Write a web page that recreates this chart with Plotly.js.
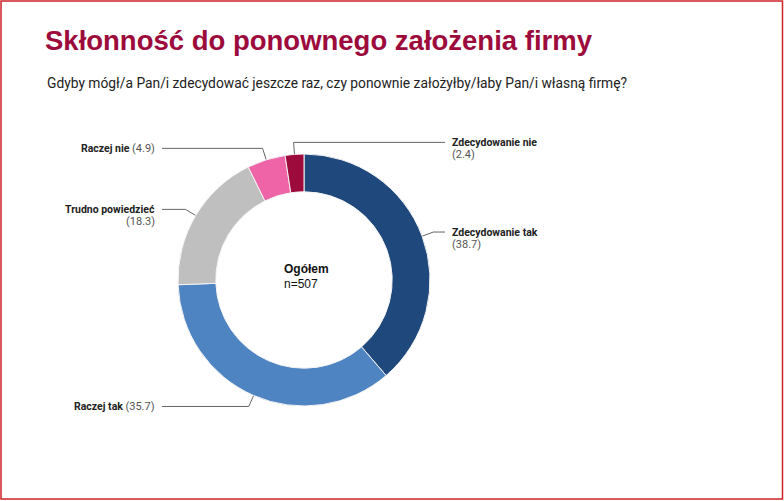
<!DOCTYPE html>
<html>
<head>
<meta charset="utf-8">
<script src="https://cdn.plot.ly/plotly-3.0.1.min.js"></script>
<style>
    html, body { margin: 0; padding: 0; background: #fff; }
    #chart { width: 784px; height: 501px; }
</style>
</head>
<body>
<div id="chart"></div>
<script>
// data
const categories = ['Zdecydowanie tak', 'Raczej tak', 'Trudno powiedzieć', 'Raczej nie', 'Zdecydowanie nie']
const values = [38.7, 35.7, 18.3, 4.9, 2.4]
const colors = ['#1f497c', '#4f84c3', '#bfbfbf', '#ef64a6', '#9c0b3b']
const labelSide = ['right', 'left', 'left', 'left', 'right']
const labelTwoLines = [true, false, true, false, true]

const titleText = 'Skłonność do ponownego założenia firmy'
const subtitleText = 'Gdyby mógł/a Pan/i zdecydować jeszcze raz, czy ponownie założyłby/łaby Pan/i własną firmę?'
const centerTitle = 'Ogółem'
const centerSub = 'n=507'

// geometry (pixels)
const W = 784, H = 501
const cx = 304, cy = 280
const outerR = 126
const hole = 0.7
const dotR = 107
const elbowR = 138
const lineEndX = { left: 162, right: 445 }
const textGap = 5
const lineGap = 12.5
const labelFont = 'Roboto, "Noto Sans", sans-serif'

// leader lines + dots computed from the data
const total = values.reduce((a, b) => a + b, 0)
let cum = 0
let lineX = [], lineY = [], dotX = [], dotY = []
let annotations = []

values.forEach((v, i) => {
    let theta = (cum + v / 2) / total * 2 * Math.PI
    cum += v
    let s = Math.sin(theta), c = Math.cos(theta)
    let dx = cx + dotR * s, dy = cy - dotR * c
    let ex = cx + elbowR * s, ey = cy - elbowR * c
    let side = labelSide[i]
    let endX = lineEndX[side]

    dotX.push(dx); dotY.push(dy)
    lineX.push(dx, ex, endX, null)
    lineY.push(dy, ey, ey, null)

    let tx = side === 'right' ? endX + textGap : endX - textGap
    let anchor = side === 'right' ? 'left' : 'right'
    let valText = '(' + v.toFixed(1) + ')'

    if (labelTwoLines[i]) {
        annotations.push({
            x: tx, y: ey, xref: 'x', yref: 'y', xanchor: anchor, yanchor: 'middle',
            text: '<b>' + categories[i] + '</b>', showarrow: false, align: anchor,
            font: { family: labelFont, size: 10.5, color: '#222' }
        })
        annotations.push({
            x: tx, y: ey + lineGap, xref: 'x', yref: 'y', xanchor: anchor, yanchor: 'middle',
            text: valText, showarrow: false, align: anchor,
            font: { family: labelFont, size: 11, color: '#555' }
        })
    } else {
        annotations.push({
            x: tx, y: ey, xref: 'x', yref: 'y', xanchor: anchor, yanchor: 'middle',
            text: '<b>' + categories[i] + '</b> <span style="font-size:11px;color:#555">' + valText + '</span>',
            showarrow: false, align: anchor,
            font: { family: labelFont, size: 10.5, color: '#222' }
        })
    }
})

// center text
annotations.push({
    x: 282, y: 269, xref: 'x', yref: 'y', xanchor: 'left', yanchor: 'middle',
    text: '<b>' + centerTitle + '</b>', showarrow: false,
    font: { family: '"Liberation Sans", Arial, sans-serif', size: 12, color: '#111' }
})
annotations.push({
    x: 282, y: 284, xref: 'x', yref: 'y', xanchor: 'left', yanchor: 'middle',
    text: centerSub, showarrow: false,
    font: { family: '"Liberation Sans", Arial, sans-serif', size: 12, color: '#111' }
})

// subtitle
annotations.push({
    x: 45, y: 83, xref: 'x', yref: 'y', xanchor: 'left', yanchor: 'middle',
    text: subtitleText, showarrow: false,
    font: { family: labelFont, size: 13.8, color: '#222' }
})

let plotData = [
    {
        type: 'pie',
        labels: categories,
        values: values,
        sort: false,
        direction: 'clockwise',
        rotation: 0,
        hole: hole,
        textinfo: 'none',
        hoverinfo: 'skip',
        showlegend: false,
        marker: { colors: colors, line: { color: '#f4f4f4', width: 1 } },
        domain: {
            x: [(cx - outerR) / W, (cx + outerR) / W],
            y: [1 - (cy + outerR) / H, 1 - (cy - outerR) / H]
        }
    },
    {
        type: 'scatter',
        mode: 'lines',
        x: lineX,
        y: lineY,
        line: { color: '#666', width: 1 },
        hoverinfo: 'skip',
        showlegend: false
    },
    {
        type: 'scatter',
        mode: 'markers',
        x: dotX,
        y: dotY,
        marker: { color: '#333', size: 4 },
        hoverinfo: 'skip',
        showlegend: false
    }
]

let plotLayout = {
    width: W,
    height: H,
    margin: { l: 0, r: 0, t: 0, b: 0 },
    paper_bgcolor: '#fff',
    plot_bgcolor: 'rgba(0,0,0,0)',
    title: {
        text: '<b>' + titleText + '</b>',
        x: 45 / W,
        xanchor: 'left',
        y: 1 - 40 / H,
        yanchor: 'middle',
        font: { family: '"Liberation Sans", Arial, sans-serif', size: 27.5, color: '#9c0b3b' }
    },
    xaxis: { range: [0, W], visible: false, fixedrange: true },
    yaxis: { range: [H, 0], visible: false, fixedrange: true },
    shapes: [{
        type: 'rect', xref: 'x', yref: 'y',
        x0: 1, x1: 782.5, y0: 1, y1: 499,
        line: { color: '#cc2229', width: 1.5 }
    }],
    annotations: annotations
}

Plotly.newPlot('chart', plotData, plotLayout, { displayModeBar: false, staticPlot: true })
</script>
</body>
</html>
